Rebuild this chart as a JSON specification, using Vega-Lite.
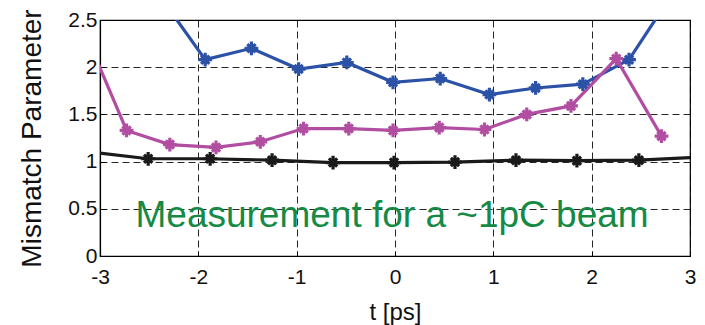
{
  "$schema": "https://vega.github.io/schema/vega-lite/v6.json",
  "width": 590,
  "height": 236,
  "autosize": {"type": "none"},
  "padding": {"left": 100, "top": 20, "right": 15, "bottom": 69},
  "background": "white",
  "config": {
    "font": "Liberation Sans",
    "view": {"stroke": "#000000", "strokeWidth": 1.2},
    "axis": {
      "labelFont": "Liberation Sans",
      "titleFont": "Liberation Sans",
      "labelFontSize": 21,
      "titleFontSize": 25,
      "labelColor": "#111111",
      "titleColor": "#111111",
      "titleFontWeight": "normal",
      "labelFlush": false,
      "labelOverlap": false,
      "labelExpr": "'' + datum.value",
      "domainColor": "#000000",
      "domainWidth": 1.2,
      "tickColor": "#000000",
      "tickSize": -5,
      "gridColor": "#000000",
      "gridDash": [7, 4],
      "gridWidth": 1,
      "gridOpacity": 0.85
    }
  },
  "datasets": {
    "series": [
      {"s": "blue", "t": -2.41, "v": 2.78},
      {"s": "blue", "t": -1.93, "v": 2.08},
      {"s": "blue", "t": -1.46, "v": 2.2},
      {"s": "blue", "t": -0.98, "v": 1.98},
      {"s": "blue", "t": -0.49, "v": 2.05},
      {"s": "blue", "t": -0.02, "v": 1.84},
      {"s": "blue", "t": 0.46, "v": 1.88},
      {"s": "blue", "t": 0.96, "v": 1.71},
      {"s": "blue", "t": 1.43, "v": 1.78},
      {"s": "blue", "t": 1.91, "v": 1.82},
      {"s": "blue", "t": 2.38, "v": 2.08},
      {"s": "blue", "t": 2.86, "v": 2.84},
      {"s": "magenta", "t": -3.19, "v": 2.46},
      {"s": "magenta", "t": -2.73, "v": 1.33},
      {"s": "magenta", "t": -2.29, "v": 1.18},
      {"s": "magenta", "t": -1.82, "v": 1.15},
      {"s": "magenta", "t": -1.37, "v": 1.21},
      {"s": "magenta", "t": -0.93, "v": 1.35},
      {"s": "magenta", "t": -0.47, "v": 1.35},
      {"s": "magenta", "t": -0.02, "v": 1.33},
      {"s": "magenta", "t": 0.45, "v": 1.36},
      {"s": "magenta", "t": 0.91, "v": 1.34},
      {"s": "magenta", "t": 1.34, "v": 1.5},
      {"s": "magenta", "t": 1.79, "v": 1.59},
      {"s": "magenta", "t": 2.25, "v": 2.09},
      {"s": "magenta", "t": 2.71, "v": 1.27},
      {"s": "black", "t": -3.13, "v": 1.105},
      {"s": "black", "t": -2.51, "v": 1.03},
      {"s": "black", "t": -1.88, "v": 1.03},
      {"s": "black", "t": -1.25, "v": 1.015},
      {"s": "black", "t": -0.63, "v": 0.99},
      {"s": "black", "t": -0.01, "v": 0.99},
      {"s": "black", "t": 0.61, "v": 0.995},
      {"s": "black", "t": 1.23, "v": 1.015},
      {"s": "black", "t": 1.85, "v": 1.01},
      {"s": "black", "t": 2.48, "v": 1.015},
      {"s": "black", "t": 3.1, "v": 1.048}
    ],
    "note": [
      {"label": "Measurement for a ~1pC beam", "t": -0.03, "v": 0.31}
    ]
  },
  "layer": [
    {
      "data": {"name": "series"},
      "mark": {"type": "line", "clip": true, "strokeWidth": 3.2},
      "encoding": {
        "x": {
          "field": "t", "type": "quantitative",
          "scale": {"domain": [-3, 3], "nice": false, "zero": false},
          "axis": {
            "title": "t [ps]",
            "values": [-3, -2, -1, 0, 1, 2, 3],
            "labelPadding": 15,
            "titleY": 63,
            "titleBaseline": "alphabetic",
            "titleFontSize": 24
          }
        },
        "y": {
          "field": "v", "type": "quantitative",
          "scale": {"domain": [0, 2.5], "nice": false, "zero": false},
          "axis": {
            "title": "Mismatch Parameter",
            "values": [0, 0.5, 1, 1.5, 2, 2.5],
            "labelPadding": 8,
            "titleFontSize": 28,
            "titleAngle": 270,
            "titleX": -68,
            "titleY": 118,
            "titleAlign": "center",
            "titleBaseline": "middle"
          }
        },
        "color": {
          "field": "s", "type": "nominal",
          "scale": {"domain": ["blue", "magenta", "black"], "range": ["#2c52a7", "#b24ea2", "#1a1a1a"]},
          "legend": null
        },
        "detail": {"field": "s"}
      }
    },
    {
      "data": {"name": "series"},
      "mark": {
        "type": "point",
        "clip": true,
        "filled": false,
        "opacity": 1,
        "strokeWidth": 3.2,
        "size": 190,
        "shape": "M0,-1L0,1M-1,0L1,0M-0.6,-0.6L0.6,0.6M-0.6,0.6L0.6,-0.6"
      },
      "encoding": {
        "x": {"field": "t", "type": "quantitative"},
        "y": {"field": "v", "type": "quantitative"},
        "color": {"field": "s", "type": "nominal", "legend": null}
      }
    },
    {
      "data": {"name": "note"},
      "mark": {
        "type": "text",
        "font": "Liberation Sans",
        "fontSize": 37,
        "color": "#148a45",
        "align": "center",
        "baseline": "alphabetic"
      },
      "encoding": {
        "x": {"field": "t", "type": "quantitative"},
        "y": {"field": "v", "type": "quantitative"},
        "text": {"field": "label"}
      }
    }
  ]
}
